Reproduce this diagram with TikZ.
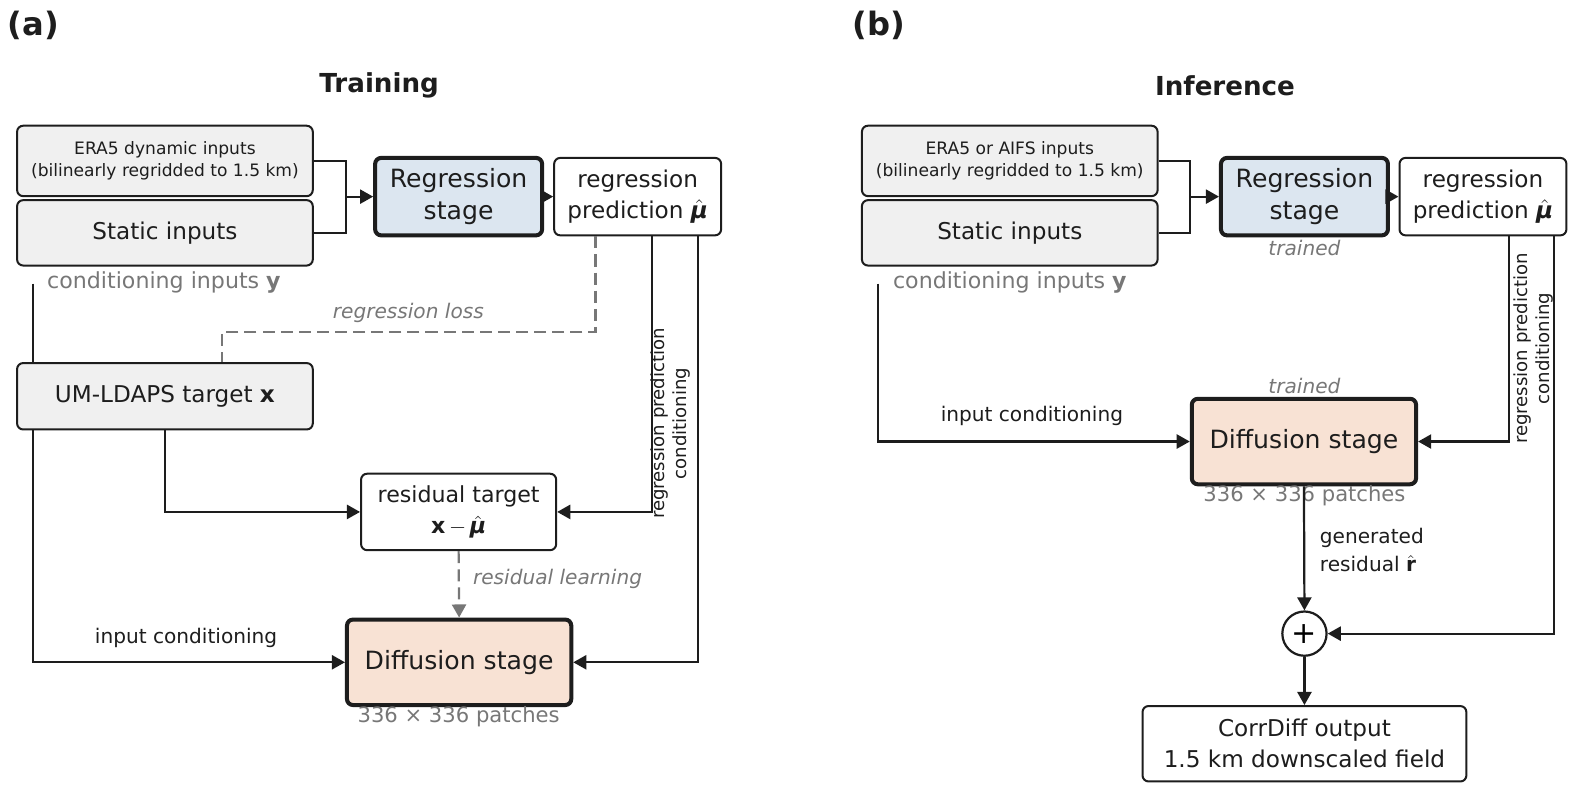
\documentclass[tikz,border=0pt]{standalone}
\usepackage{amsmath}
\usepackage{fontspec}
\setmainfont{DejaVu Sans}
\usetikzlibrary{positioning,arrows.meta}
\definecolor{colorinput}{RGB}{240,240,240}
\definecolor{colorreg}  {RGB}{220,230,240}
\definecolor{colordiff} {RGB}{248,226,212}
\definecolor{colortext} {RGB}{29 ,29 ,29 }
\definecolor{colormuted}{RGB}{119,119,119}
\newcommand{\muhat}{$\hat{\text{\bfseries\itshape μ}}$}

\begin{document}
\begin{tikzpicture}[
    x=0.5pt, y=-0.5pt,
    base/.style={draw=colortext,text=colortext,line width=1pt,rounded corners=3pt,align=center,rectangle,inner sep=0pt},
    inbox/.style={base,fill=colorinput,minimum width=147pt},
    stage/.style={base,line width=2pt,minimum width=83pt,minimum height=38.5pt,font={\fontsize{12.5}{16}\selectfont}},
    big/.style={font={\fontsize{11.5}{15.5}\selectfont}},
    txt/.style={text=colortext,align=center,inner sep=0pt},
    note/.style={text=colormuted,align=center,inner sep=0pt},
    tag/.style={note,font={\fontsize{10}{11}\selectfont\itshape}},
    conn/.style={draw=colortext,line width=1.1pt},
    arr/.style={conn,-{Triangle[length=6.5pt,width=7pt]}},
    loss/.style={draw=colormuted,line width=1.1pt,dash pattern=on 6pt off 3pt},
]
    \useasboundingbox (0,0) rectangle (1568,789);

    % (a) training
    \node[txt,font={\fontsize{16}{16}\selectfont\bfseries}] at (33,25) (lbla) {(a)};
    \node[txt,font={\fontsize{13}{13}\selectfont\bfseries}] at (377,85) (titlea) {Training};

    \node[inbox,minimum height=35pt,font={\fontsize{8.5}{11}\selectfont}] at (164,160) (era) {ERA5 dynamic inputs\\(bilinearly regridded to 1.5 km)};
    \node[inbox,big,minimum height=32.5pt] at (164,231.5) (stat) {Static inputs};
    \node[stage,fill=colorreg] at (456,195.5) (reg) {Regression\\stage};
    \node[base,big,fill=white,minimum width=83pt,minimum height=38.5pt] at (634,195.5) (pred) {regression\\prediction \muhat};
    \node[note,font={\fontsize{11}{11}\selectfont}] at (163,281) (condy) {conditioning inputs \textbf{y}};

    \node[inbox,big,minimum height=33pt] at (164,394) (um) {UM-LDAPS target \textbf{x}};
    \node[base,fill=white,minimum width=97pt,minimum height=38pt,font={\fontsize{11}{15.5}\selectfont}] at (456,509) (res) {residual target\\\textbf{x}\,$-$\,\muhat};
    \node[stage,fill=colordiff,minimum width=111.5pt,minimum height=42.5pt] at (456.5,658.5) (diff) {Diffusion stage};
    \node[note,font={\fontsize{10.5}{11}\selectfont}] at (456,713) (patcha) {336 × 336 patches};

    \node[tag] at (406,311) (losslbl) {regression loss};
    \node[tag,anchor=west] at (470,576) (reslbl) {residual learning};
    \node[txt,font={\fontsize{10}{11}\selectfont}] at (185,634) (inlbl) {input conditioning};
    \node[txt,rotate=90,font={\fontsize{9}{10.8}\selectfont}] at (667,421) (predlbl) {regression prediction\\conditioning};

    \coordinate (jn) at (344,195.5);
    \draw[conn] (era.east) -| (jn) |- (stat.east);
    \draw[arr] (jn) -- (reg.west);
    \draw[arr] (reg.east) -- (pred.west);

    \coordinate (cya) at (33,282);
    \draw[conn] (cya) -- (cya |- um.north);
    \draw[arr] (cya |- um.south) |- (diff.west);

    \coordinate (lossr) at (592,330);
    \coordinate (lossl) at (221,330);
    \draw[loss] (lossr |- pred.south) -- (lossr) -- (lossl) -- (lossl |- um.north);

    \draw[arr] (um.south) |- (res.west);
    \coordinate (pa) at (648,300);
    \coordinate (pb) at (694,300);
    \draw[arr] (pa |- pred.south) |- (res.east);
    \draw[arr] (pb |- pred.south) |- (diff.east);
    \draw[loss,-{Triangle[length=6.5pt,width=7pt]}] (res.south) -- (diff.north);

    % (b) inference
    \node[txt,font={\fontsize{16}{16}\selectfont\bfseries}] at (874,25) (lblb) {(b)};
    \node[txt,font={\fontsize{13}{13}\selectfont\bfseries}] at (1218,85) (titleb) {Inference};

    \node[inbox,minimum height=35pt,font={\fontsize{8.5}{11}\selectfont}] at (1004,160) (era2) {ERA5 or AIFS inputs\\(bilinearly regridded to 1.5 km)};
    \node[inbox,big,minimum height=32.5pt] at (1004,231.5) (stat2) {Static inputs};
    \node[stage,fill=colorreg] at (1297,195.5) (reg2) {Regression\\stage};
    \node[base,big,fill=white,minimum width=83pt,minimum height=38.5pt] at (1474.5,195.5) (pred2) {regression\\prediction \muhat};
    \node[note,font={\fontsize{10}{11}\selectfont\itshape}] at (1297,247) (trained1) {trained};
    \node[note,font={\fontsize{11}{11}\selectfont}] at (1004,281) (condy2) {conditioning inputs \textbf{y}};

    \node[stage,fill=colordiff,minimum width=111.5pt,minimum height=42.5pt] at (1296.5,439) (diff2) {Diffusion stage};
    \node[note,font={\fontsize{10}{11}\selectfont\itshape}] at (1297,384) (trained2) {trained};
    \node[note,font={\fontsize{10.5}{11}\selectfont}] at (1297,493) (patchb) {336 × 336 patches};
    \node[txt,font={\fontsize{10}{11}\selectfont}] at (1026,414) (inlbl2) {input conditioning};
    \node[txt,rotate=90,font={\fontsize{9}{10.8}\selectfont}] at (1524.5,346.5) (predlbl2) {regression prediction\\conditioning};

    \node[circle,draw=colortext,fill=white,line width=1.1pt,minimum size=22pt,inner sep=0pt,font={\fontsize{15}{15}\selectfont}] at (1297,630) (sum) {+};
    \node[txt,align=left,anchor=west,font={\fontsize{10}{14}\selectfont}] at (1312,547) (genlbl) {generated\\residual $\hat{\textbf{r}}$};
    \node[base,big,fill=white,minimum width=161pt,minimum height=37.5pt] at (1297,739.5) (out) {CorrDiff output\\1.5 km downscaled field};

    \coordinate (jn2) at (1183,195.5);
    \draw[conn] (era2.east) -| (jn2) |- (stat2.east);
    \draw[arr] (jn2) -- (reg2.west);
    \draw[arr] (reg2.east) -- (pred2.west);

    \coordinate (cyb) at (873,282);
    \draw[arr] (cyb) |- (diff2.west);

    \coordinate (pc) at (1500,300);
    \coordinate (pd) at (1545,300);
    \draw[arr] (pc |- pred2.south) |- (diff2.east);
    \draw[arr] (pd |- pred2.south) |- (sum.east);
    \draw[arr] (diff2.south) -- (sum.north);
    \draw[arr] (sum.south) -- (out.north);

\end{tikzpicture}
\end{document}
